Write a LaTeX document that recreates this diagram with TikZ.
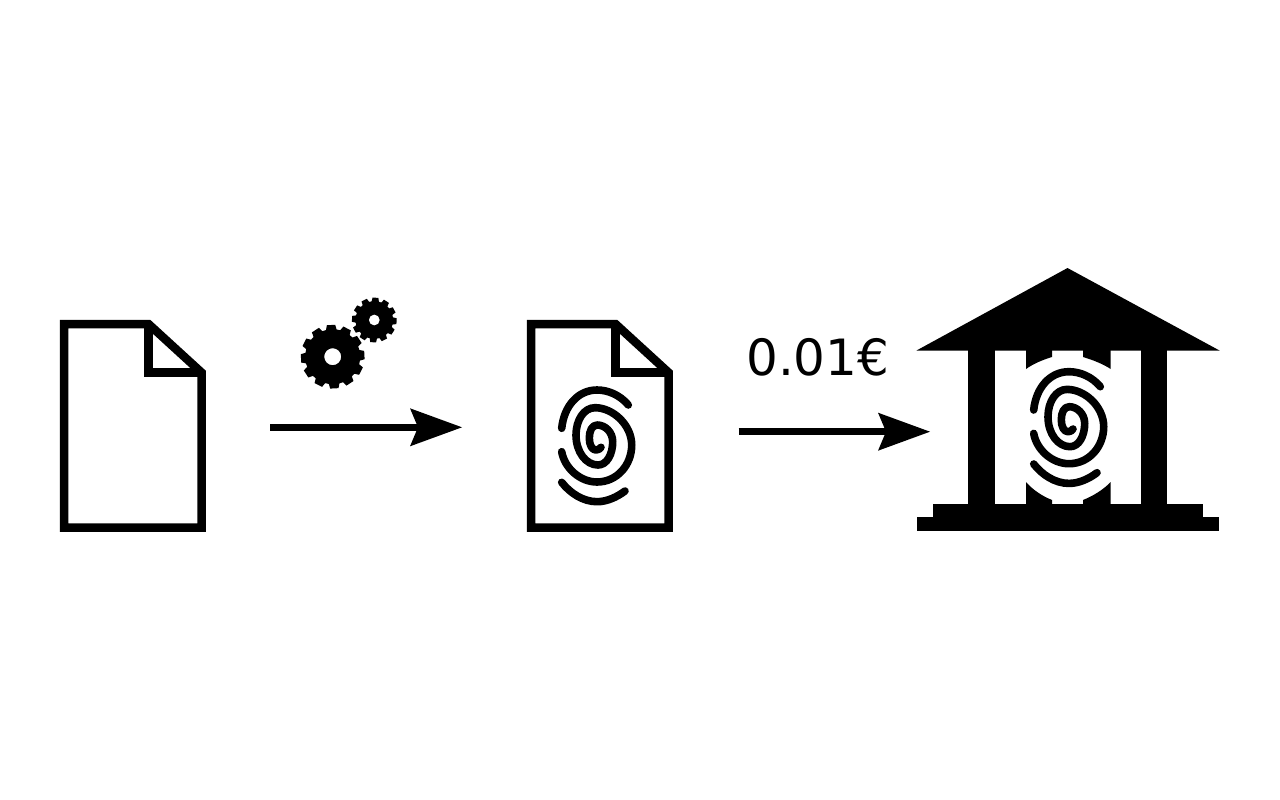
\documentclass[tikz,border=0pt]{standalone}
\usepackage{fontspec}
\setmainfont{DejaVu Sans}
\usetikzlibrary{arrows.meta}
\tikzset{
  docline/.style={line width=8.5pt,miter limit=10},
  ridge/.style={line width=7.6pt,line cap=round,line join=round},
  flow/.style={line width=7.5pt,-{Stealth[length=52pt,width=38pt,inset=8pt,line width=0pt]}},
  price/.style={font=\fontsize{50pt}{50pt}\selectfont,inner sep=0pt,anchor=base west}
}
\newcommand{\docicon}[1]{%
  \begin{scope}[shift={(#1,0)}]
    \draw[docline] (531,324) -- (615.5,324) -- (668.5,372.5) -- (668.5,527.5) -- (531,527.5) -- cycle;
    \draw[docline] (615.5,324) -- (615.5,372.5) -- (668.5,372.5);
  \end{scope}}
\newcommand{\fingerprint}[2]{%
  \begin{scope}[shift={(#1,#2)}]
    \draw[ridge] (561.7,428.3) .. controls (564,406) and (578,390) .. (597,390) .. controls (608,390) and (620,395) .. (628.3,405);
    \draw[ridge] (561.7,482.3) .. controls (570,493) and (583,501.7) .. (597,501.7) .. controls (607,501.7) and (617,497) .. (625,491);
    \draw[ridge] (561.7,451.7) .. controls (564.5,468) and (580,482) .. (597,482)
      .. controls (617,482) and (631.7,465) .. (631.7,445)
      .. controls (631.7,425) and (613,407.7) .. (595,407.7)
      .. controls (584,407.7) and (576,420) .. (576,435)
      .. controls (576,452) and (586,465) .. (598,465)
      .. controls (607,465) and (612.7,454) .. (612.7,441.7)
      .. controls (612.7,432) and (605,425) .. (597.3,425)
      .. controls (592,425) and (589.3,431) .. (589.3,438)
      .. controls (589.3,445) and (592,450) .. (596,450)
      .. controls (598,450) and (600,449) .. (601,447.3);
  \end{scope}}
\newcommand{\gearicon}[7]{% cx cy rout rin hole teeth phase
  \begin{scope}[shift={(#1,#2)}]
    \pgfmathsetmacro{\st}{360/#6}
    \pgfmathtruncatemacro{\last}{#6-1}
    \fill[even odd rule] (#7-0.37*\st:#4)
      \foreach \i in {0,...,\last}{
        -- (#7+\i*\st-0.37*\st:#4) -- (#7+\i*\st-0.25*\st:#3) -- (#7+\i*\st+0.25*\st:#3) -- (#7+\i*\st+0.37*\st:#4)
      } -- cycle (0,0) circle (#5);
  \end{scope}}
\begin{document}
\begin{tikzpicture}[x=1pt,y=-1pt]
\useasboundingbox (0,0) rectangle (1280,800);
\fill[white] (0,0) rectangle (1280,800);
% documents
\docicon{-467}
\docicon{0}
\fingerprint{0}{0}
% gears
\gearicon{332.7}{356.7}{32}{27.5}{8.5}{12}{-3}
\gearicon{374.3}{320}{22.5}{18.8}{5.5}{12}{3}
% arrows
\coordinate (a1) at (270,427.3);
\coordinate (a2) at (462,427.3);
\coordinate (b1) at (738.5,431.7);
\coordinate (b2) at (930,431.7);
\draw[flow] (a1) -- (a2);
\draw[flow] (b1) -- (b2);
\node[price] (cost) at (746,375.5) {0.01€};
% bank
\fill (1067.5,268) -- (1219.5,350.5) -- (916.5,350.5) -- cycle;
\fill (968.3,350) rectangle (995,505);
\fill (1140.7,350) rectangle (1167.3,505);
\fill (933.3,504) rectangle (1202.7,517);
\fill (916.7,516.5) rectangle (1219.3,530.7);
\fill (1026,350) -- (1052,350) -- (1052,357) .. controls (1042,360) and (1033,364) .. (1026,369) -- cycle;
\fill (1110.7,350) -- (1083,350) -- (1083,357) .. controls (1093,360) and (1103,364) .. (1110.7,369) -- cycle;
\fill (1026,504) -- (1052,504) -- (1052,500) .. controls (1042,496) and (1033,490) .. (1026,482) -- cycle;
\fill (1110.7,504) -- (1083,504) -- (1083,500) .. controls (1093,496) and (1103,490) .. (1110.7,482) -- cycle;
\fingerprint{472}{-18.3}
\end{tikzpicture}
\end{document}
